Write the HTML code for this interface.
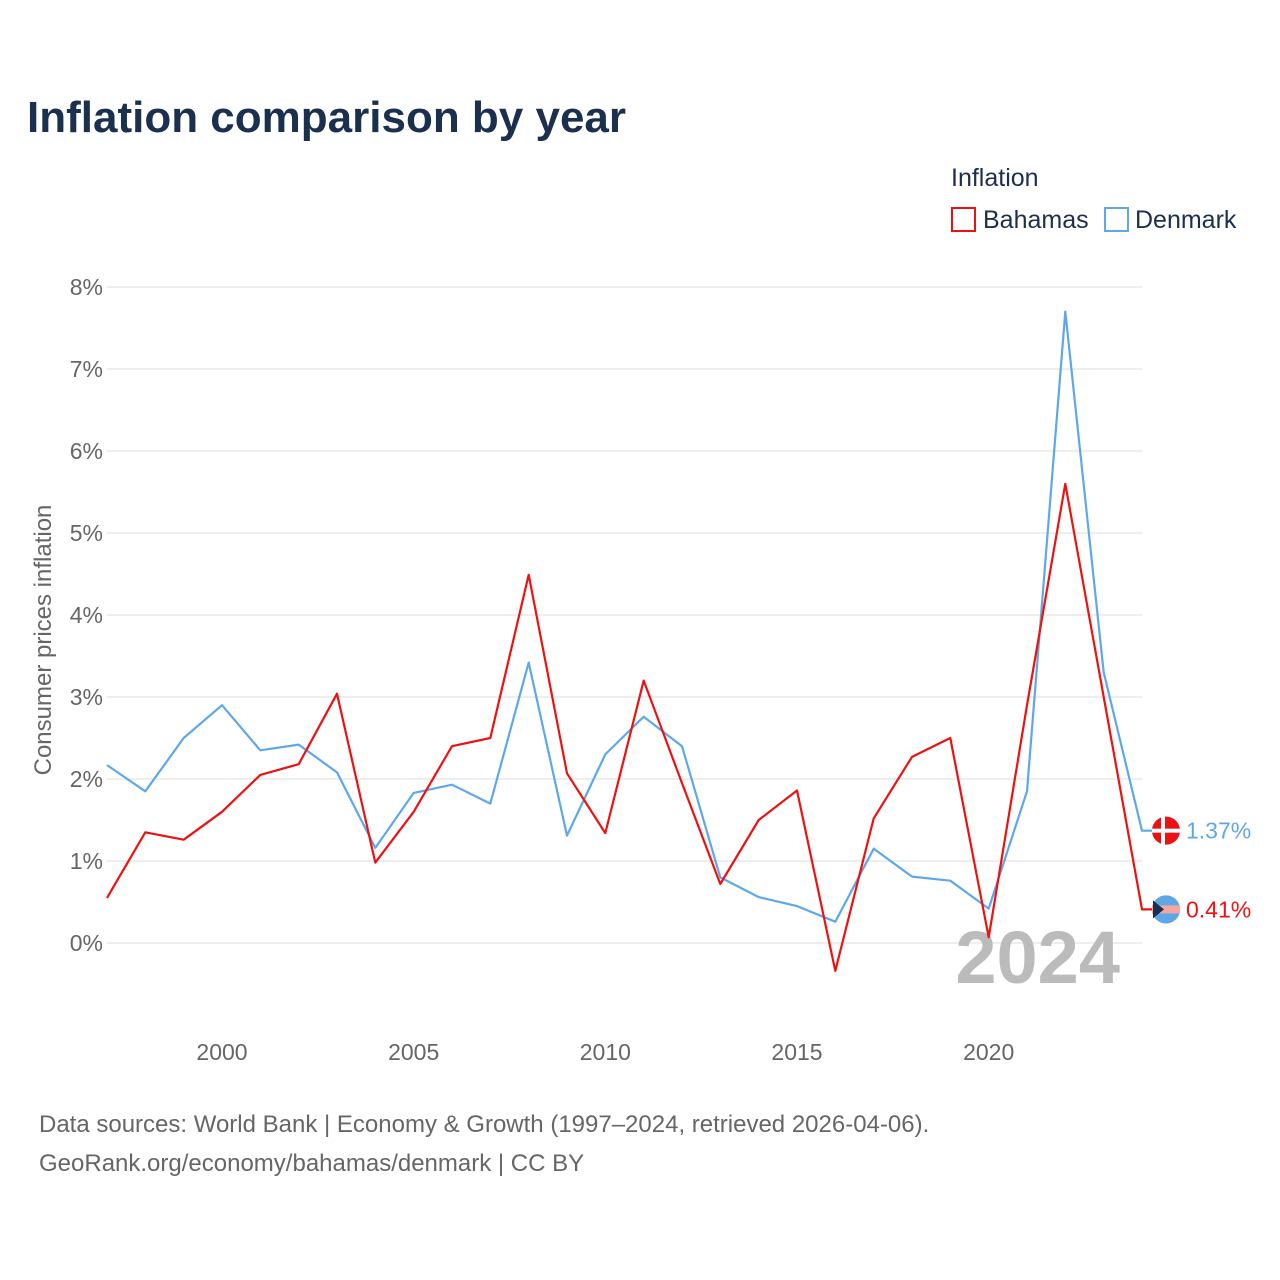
<!DOCTYPE html>
<html><head><meta charset="utf-8"><style>
body{margin:0;background:#fff;font-family:"Liberation Sans",sans-serif;}
</style></head><body>
<svg id="chart" width="1280" height="1280" xmlns="http://www.w3.org/2000/svg" style="display:block">
<text x="27" y="132" font-size="44" font-weight="bold" fill="#1b2f4e">Inflation comparison by year</text>
<text x="951" y="186" font-size="25" fill="#1b2f4e">Inflation</text>
<rect x="952" y="208" width="23" height="23" fill="none" stroke="#ee1111" stroke-width="2"/>
<text x="983" y="228" font-size="25" fill="#1b2f4e">Bahamas</text>
<rect x="1105" y="208" width="23" height="23" fill="none" stroke="#5ea8ea" stroke-width="2"/>
<text x="1135" y="228" font-size="25" fill="#1b2f4e">Denmark</text>
<g id="grid"></g>
<g id="yticks"></g>
<g id="xticks"></g>
<text transform="translate(51,640) rotate(-90)" text-anchor="middle" font-size="24" fill="#666">Consumer prices inflation</text>
<text x="1120" y="983" text-anchor="end" font-size="74" font-weight="bold" fill="#bbb">2024</text>
<g id="series"></g>
<text x="39" y="1132" font-size="24" fill="#666">Data sources: World Bank | Economy &amp; Growth (1997–2024, retrieved 2026-04-06).</text>
<text x="39" y="1171" font-size="24" fill="#666">GeoRank.org/economy/bahamas/denmark | CC BY</text>
</svg>
<script>
const years=[1997,1998,1999,2000,2001,2002,2003,2004,2005,2006,2007,2008,2009,2010,2011,2012,2013,2014,2015,2016,2017,2018,2019,2020,2021,2022,2023,2024];
const bahamas=[0.55,1.35,1.26,1.6,2.05,2.18,3.04,0.98,1.6,2.4,2.5,4.49,2.07,1.34,3.2,1.95,0.72,1.5,1.86,-0.34,1.52,2.27,2.5,0.07,2.9,5.6,3.0,0.41];
const denmark=[2.17,1.85,2.5,2.9,2.35,2.42,2.08,1.16,1.83,1.93,1.7,3.42,1.31,2.3,2.76,2.4,0.8,0.56,0.45,0.26,1.15,0.81,0.76,0.42,1.85,7.7,3.3,1.37];
const yTicks=[0,1,2,3,4,5,6,7,8];
const xTicks=[2000,2005,2010,2015,2020];
const NS='http://www.w3.org/2000/svg';
const X=y=>107+(y-1997)*(1142-107)/27;
const Y=v=>943-v*82;
function mk(tag,attrs,parent){const e=document.createElementNS(NS,tag);for(const k in attrs)e.setAttribute(k,attrs[k]);parent.appendChild(e);return e;}
const grid=document.getElementById('grid'),yt=document.getElementById('yticks'),xt=document.getElementById('xticks'),ser=document.getElementById('series');
yTicks.forEach(t=>{
  const l=mk('line',{x1:107,x2:1142,y1:Y(t),y2:Y(t),stroke:'#e8e8e8','stroke-width':1.5},grid);
  
  
  const tx=mk('text',{x:103,y:Y(t)+8,'text-anchor':'end','font-size':23,fill:'#666'},yt);
  tx.textContent=t+'%';
  
  
});
xTicks.forEach(t=>{
  const tx=mk('text',{x:X(t),y:1060,'text-anchor':'middle','font-size':23,fill:'#666'},xt);
  tx.textContent=t;
  
  
});
function line(vals,color,name){
  let d=vals.map((v,i)=>(i?'L':'M')+X(years[i]).toFixed(1)+','+Y(vals[i]).toFixed(1)).join(' ');
  const last=vals[vals.length-1];
  d+=' L'+(X(2024)+12)+','+Y(last).toFixed(1);
  const p=mk('path',{d:d,fill:'none',stroke:color,'stroke-width':2.2,'stroke-linejoin':'round'},ser);
  
  
  const c=mk('circle',{cx:1166,cy:Y(last),r:14,fill:color},ser);
  
  
  const lb=mk('text',{x:1186,y:Y(last)+8,'font-size':23,fill:color},ser);
  lb.textContent=last.toFixed(2)+'%';
  
  
  return c;
}
line(denmark,'#5ea8ea','denmark');
line(bahamas,'#ee1111','bahamas');
// denmark flag detail
const dy=Y(denmark[denmark.length-1]);
const f1=mk('circle',{cx:1166,cy:dy,r:14,fill:'#ee1111'},ser);


mk('rect',{x:1152,y:dy-2,width:28,height:4,fill:'#fff'},ser);
mk('rect',{x:1161,y:dy-14,width:4,height:28,fill:'#fff'},ser);
// bahamas flag detail
const by=Y(bahamas[bahamas.length-1]);
const f2=mk('circle',{cx:1166,cy:by,r:14,fill:'#5ea8ea'},ser);


mk('rect',{x:1152,y:by-4,width:28,height:8,fill:'#f6a6a0'},ser);
mk('path',{d:`M1153,${by-9} L1164,${by} L1153,${by+9} Z`,fill:'#1b2f4e'},ser);
</script>
</body></html>
